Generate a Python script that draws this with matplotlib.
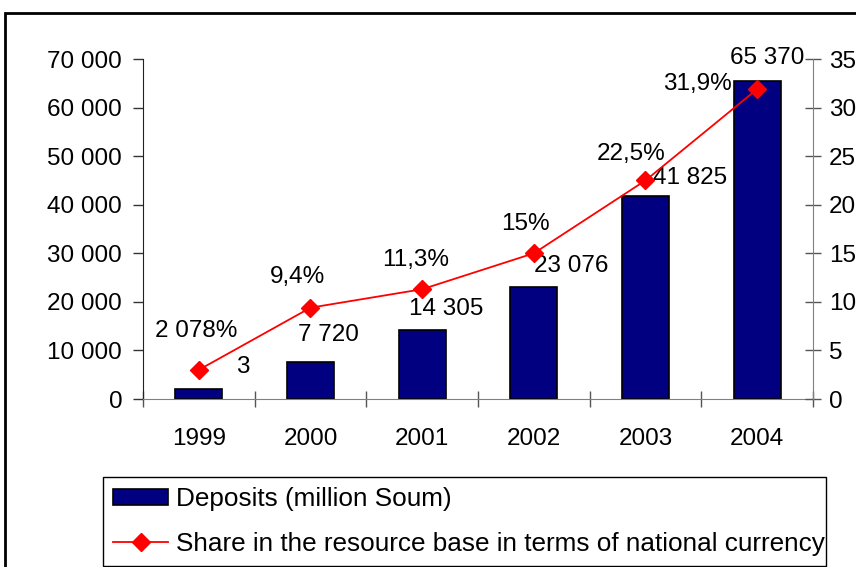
import matplotlib
matplotlib.use("Agg")
import matplotlib.pyplot as plt
from matplotlib.patches import Rectangle
from matplotlib.ticker import FuncFormatter, FixedLocator

plt.rcParams["font.family"] = ["Liberation Sans", "DejaVu Sans"]
plt.rcParams["font.size"] = 17.5

years = ["1999", "2000", "2001", "2002", "2003", "2004"]
deposits = [2078, 7720, 14305, 23076, 41825, 65370]
share = [3, 9.4, 11.3, 15, 22.5, 31.9]

# data labels as they appear on the chart
bar_labels = ["3", "7 720", "14 305", "23 076", "41 825", "65 370"]
line_labels = ["2 078%", "9,4%", "11,3%", "15%", "22,5%", "31,9%"]

# label offsets in points (dx, dy) from bar top / marker
bar_offsets = [(32, 16), (13, 19), (17, 15), (27, 15), (32, 13), (7, 17)]
line_offsets = [(-2, 28), (-9, 22), (-5, 21), (-6, 21), (-10, 19), (-43, 4)]

DPI = 100
fig = plt.figure(figsize=(8.56, 5.67), dpi=DPI)
W, H = 856, 567

ax = fig.add_axes([143 / W, 1 - 399 / H, (813 - 143) / W, (399 - 59) / H])
ax2 = ax.twinx()

x = list(range(len(years)))
ax.bar(x, deposits, width=0.42, color="#000080", edgecolor="black",
       linewidth=1.2, label="Deposits (million Soum)", zorder=2)
ax2.plot(x, share, color="red", linewidth=1.3, marker="D", markersize=9,
         label="Share in the resource base in terms of national currency",
         zorder=3)

ax.set_xlim(-0.5, 5.5)
ax.set_ylim(0, 70000)
ax2.set_ylim(0, 35)

ax.set_yticks(range(0, 70001, 10000))
ax.yaxis.set_major_formatter(FuncFormatter(lambda v, p: f"{int(v):,}".replace(",", " ")))
ax2.set_yticks(range(0, 36, 5))

ax.set_xticks(x)
ax.set_xticklabels(years)
ax.xaxis.set_minor_locator(FixedLocator([i - 0.5 for i in range(len(years) + 1)]))
ax.tick_params(axis="x", which="major", length=0, pad=21)
ax.tick_params(axis="x", which="minor", direction="inout", length=12,
               width=1, color="#555555")
ax.tick_params(axis="y", direction="out", length=7, width=1,
               color="#333333", pad=8)
ax2.tick_params(axis="y", direction="inout", length=11, width=1,
                color="#555555", pad=6)

for a in (ax, ax2):
    a.spines["top"].set_visible(False)
    a.patch.set_visible(False)
ax.spines["left"].set_color("#222222")
ax.spines["bottom"].set_color("#808080")
ax.spines["right"].set_visible(False)
ax2.spines["left"].set_visible(False)
ax2.spines["bottom"].set_visible(False)
ax2.spines["right"].set_color("#808080")

for i, (v, t) in enumerate(zip(deposits, bar_labels)):
    ax.annotate(t, (i, v), xytext=bar_offsets[i], textcoords="offset points",
                ha="center", va="center", zorder=4)
for i, (v, t) in enumerate(zip(share, line_labels)):
    ax2.annotate(t, (i, v), xytext=line_offsets[i], textcoords="offset points",
                 ha="center", va="center", zorder=4)

# outer chart border
fig.patches.append(Rectangle((5 / W, -0.1), 1.2, 1 - 13 / H + 0.1,
                             transform=fig.transFigure, fill=False,
                             edgecolor="black", linewidth=2))

h1, l1 = ax.get_legend_handles_labels()
h2, l2 = ax2.get_legend_handles_labels()
leg = fig.legend(h1 + h2, l1 + l2, loc="upper left",
                 bbox_to_anchor=(103 / W, 0, (826 - 103) / W, 1 - 477 / H),
                 mode="expand", fontsize=18.8, fancybox=False,
                 edgecolor="black", framealpha=1,
                 borderpad=0.4, labelspacing=0.77, handlelength=2.1,
                 handleheight=0.55, handletextpad=0.3, borderaxespad=0,
                 numpoints=1)
leg.get_frame().set_linewidth(1)

fig.savefig("out.png", dpi=DPI)
